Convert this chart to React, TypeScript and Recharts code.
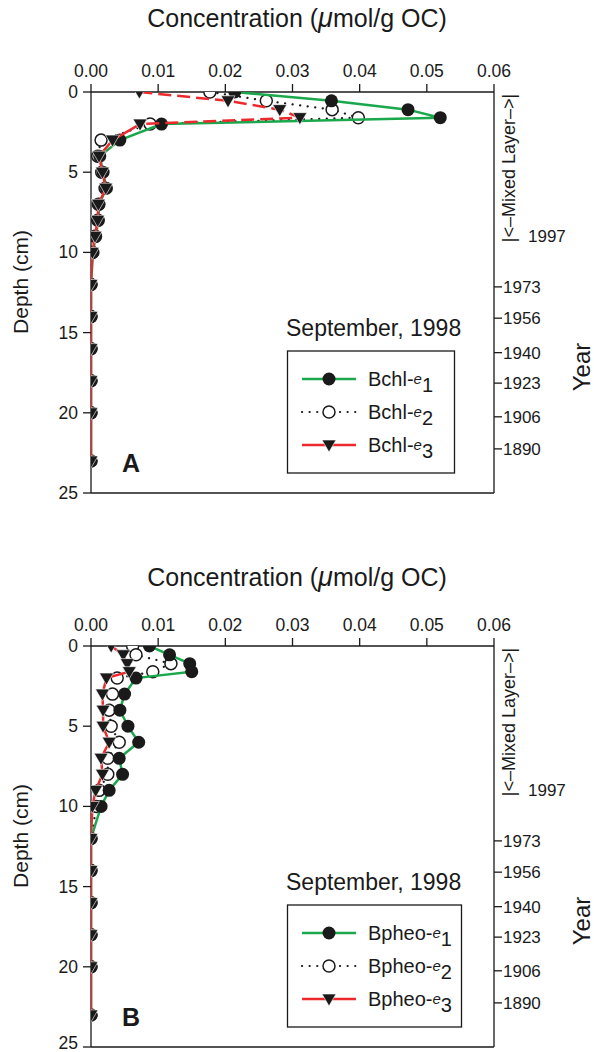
import React from 'react';
import { ScatterChart, Scatter, XAxis, YAxis, Legend } from 'recharts';

// depth of each slice (cm), shared by all series
const depths = [0, 0.55, 1.1, 1.6, 2, 3, 4, 5, 6, 7, 8, 9, 10, 12, 14, 16, 18, 20, 23];

// panel A - Bchl
const bchlE1 = [0.0214, 0.0358, 0.0472, 0.052, 0.0105, 0.0043, 0.0013, 0.0018, 0.0023, 0.0012, 0.0011, 0.0007, 0.0003, 0, 0, 0, 0, 0, 0];
const bchlE2 = [0.0177, 0.0261, 0.0359, 0.0398, 0.0088, 0.0015, 0.001, 0.0016, 0.0021, 0.0011, 0.001, 0.0006, 0.0002, 0, 0, 0, 0, 0, 0];
const bchlE3 = [0.0072, 0.0204, 0.0281, 0.0311, 0.0073, 0.0032, 0.0012, 0.0017, 0.0022, 0.0011, 0.001, 0.0006, 0.0002, 0, 0, 0, 0, 0, 0];

// panel B - Bpheo
const bpheoE1 = [0.0087, 0.0117, 0.0147, 0.015, 0.0067, 0.005, 0.0043, 0.0055, 0.0071, 0.0042, 0.0047, 0.0027, 0.0015, 0, 0, 0, 0, 0, 0];
const bpheoE2 = [0.0062, 0.0067, 0.0119, 0.0092, 0.0039, 0.0032, 0.0027, 0.003, 0.0042, 0.0025, 0.0025, 0.0012, 0.0008, 0, 0, 0, 0, 0, 0];
const bpheoE3 = [0.003, 0.0048, 0.0054, 0.0057, 0.0023, 0.0017, 0.0018, 0.0018, 0.0027, 0.0015, 0.0017, 0.0007, 0.0002, 0, 0, 0, 0, 0, 0];

const concTicks = [0, 0.01, 0.02, 0.03, 0.04, 0.05, 0.06];
const depthTicks = [0, 5, 10, 15, 20, 25];
const yearDepths = [9, 12.15, 14.1, 16.25, 18.15, 20.25, 22.25];
const yearLabels = ['1997', '1973', '1956', '1940', '1923', '1906', '1890'];

const GREEN = '#1ba84c';
const RED = '#ec2a2e';
const INK = '#1a1a1a';
const FONT = '"Liberation Sans", Arial, Helvetica, sans-serif';

const toPoints = (vals: number[]) => vals.map((v, i) => ({ conc: v, depth: depths[i] }));
// anchors for the year axis / box bottom so recharts lays them out
const yearPoints = yearDepths.map((d) => ({ conc: 0, depth: d }));

const FilledDot = (p: any) => <circle cx={p.cx} cy={p.cy} r={6.5} fill={INK} />;
const OpenDot = (p: any) => <circle cx={p.cx} cy={p.cy} r={6} fill="#fff" stroke={INK} strokeWidth={1.5} />;
const DownTri = (p: any) => (
  <path
    d={`M${p.cx - 7},${p.cy - 5} L${p.cx + 7},${p.cy - 5} L${p.cx},${p.cy + 7} Z`}
    fill={INK}
    stroke="#fff"
    strokeWidth={0.6}
  />
);
const NoMark = () => <g />;

const greenLine = { stroke: GREEN, strokeWidth: 2.5 };
const dotLine = { stroke: INK, strokeWidth: 2.2, strokeDasharray: '0.1 7.5', strokeLinecap: 'round' as const };
const redLine = { stroke: RED, strokeWidth: 2.5 };
const redDash = { stroke: RED, strokeWidth: 2.5, strokeDasharray: '13 6' };

interface PanelProps {
  prefix: string;
  e1: number[];
  e2: number[];
  e3: number[];
  letter: string;
  height: number;
  plotTop: number;
  titleBase: number;
  dashedTop: boolean;
  boxWidth: number;
}

const Panel: React.FC<PanelProps> = ({ prefix, e1, e2, e3, letter, height, plotTop, titleBase, dashedTop, boxWidth }) => {
  const plotH = 401;
  const e3Points = toPoints(e3);

  const legendRows = [
    { sub: '1', line: greenLine, mark: FilledDot },
    { sub: '2', line: dotLine, mark: OpenDot },
    { sub: '3', line: redLine, mark: DownTri },
  ];

  const renderLegend = () => (
    <svg width={200} height={180} style={{ overflow: 'visible' }}>
      <text x={6} y={26} fontSize={23} fill={INK} fontFamily={FONT}>September, 1998</text>
      <rect x={7.5} y={41} width={boxWidth} height={122} fill="#fff" stroke={INK} strokeWidth={1.3} />
      {legendRows.map((r, i) => {
        const cy = 69 + i * 33;
        const M = r.mark;
        return (
          <g key={r.sub}>
            <line x1={22} x2={76} y1={cy} y2={cy} {...r.line} />
            <M cx={49} cy={cy} />
            <text x={88} y={cy + 7} fontSize={20} fill={INK} fontFamily={FONT}>
              {prefix}
              <tspan fontStyle="italic" fontSize={15} dy={-2}>e</tspan>
              <tspan dy={8}>{r.sub}</tspan>
            </text>
          </g>
        );
      })}
    </svg>
  );

  return (
    <ScatterChart
      width={594}
      height={height}
      margin={{ top: plotTop - 30, left: 46, right: 20, bottom: height - plotTop - plotH - 1 }}
    >
      <XAxis
        xAxisId={0}
        type="number"
        dataKey="conc"
        orientation="top"
        domain={[0, 0.06]}
        ticks={concTicks}
        height={30}
        tickSize={8}
        allowDataOverflow
        axisLine={{ stroke: INK, strokeWidth: 1.3 }}
        tickLine={{ stroke: INK, strokeWidth: 1.3 }}
        tick={(p: any) => (
          <text x={p.x} y={plotTop - 15} textAnchor="middle" fontSize={17.5} fill={INK} fontFamily={FONT}>
            {Number(p.payload.value).toFixed(2)}
          </text>
        )}
      />
      <XAxis
        xAxisId="bottom"
        type="number"
        dataKey="conc"
        orientation="bottom"
        domain={[0, 0.06]}
        height={1}
        tick={false}
        tickLine={false}
        allowDataOverflow
        axisLine={{ stroke: INK, strokeWidth: 1.3 }}
      />
      <YAxis
        yAxisId={0}
        type="number"
        dataKey="depth"
        reversed
        domain={[0, 25]}
        ticks={depthTicks}
        width={45}
        tickSize={8}
        allowDataOverflow
        axisLine={{ stroke: INK, strokeWidth: 1.3 }}
        tickLine={{ stroke: INK, strokeWidth: 1.3 }}
        tick={(p: any) => (
          <text x={78} y={p.y + 6} textAnchor="end" fontSize={17.5} fill={INK} fontFamily={FONT}>
            {p.payload.value}
          </text>
        )}
      />
      <YAxis
        yAxisId="year"
        type="number"
        dataKey="depth"
        orientation="right"
        reversed
        domain={[0, 25]}
        ticks={yearDepths}
        width={80}
        tickLine={false}
        allowDataOverflow
        axisLine={{ stroke: INK, strokeWidth: 1.3 }}
        tick={(p: any) => {
          const idx = yearDepths.indexOf(p.payload.value);
          const first = idx === 0;
          return (
            <g>
              {!first && <line x1={494} x2={502} y1={p.y} y2={p.y} stroke={INK} strokeWidth={1.3} />}
              <text x={first ? 528 : 503} y={p.y + 6} fontSize={17} fill={INK} fontFamily={FONT}>
                {yearLabels[idx]}
              </text>
            </g>
          );
        }}
      />

      <Scatter
        data={yearPoints}
        xAxisId="bottom"
        yAxisId="year"
        shape={NoMark}
        legendType="none"
        isAnimationActive={false}
      />
      <Scatter data={toPoints(e2)} line={dotLine} shape={OpenDot} isAnimationActive={false} />
      <Scatter data={toPoints(e1)} line={greenLine} shape={FilledDot} isAnimationActive={false} />
      {dashedTop ? (
        <Scatter data={e3Points.slice(0, 5)} line={redDash} shape={DownTri} isAnimationActive={false} />
      ) : null}
      <Scatter
        data={dashedTop ? e3Points.slice(4) : e3Points}
        line={redLine}
        shape={DownTri}
        isAnimationActive={false}
      />

      <Legend
        layout="vertical"
        align="center"
        verticalAlign="middle"
        content={renderLegend}
        wrapperStyle={{ left: 280, top: plotTop + 218, width: 200, height: 180 }}
      />

      <text x={297} y={titleBase} textAnchor="middle" fontSize={25} fill={INK} fontFamily={FONT}>
        Concentration (<tspan fontStyle="italic" fontSize={27}>μ</tspan>mol/g OC)
      </text>
      <text
        transform={`translate(28, ${plotTop + 190}) rotate(-90)`}
        textAnchor="middle"
        fontSize={21}
        fill={INK}
        fontFamily={FONT}
      >
        Depth (cm)
      </text>
      <text
        transform={`translate(590, ${plotTop + 275}) rotate(-90)`}
        textAnchor="middle"
        fontSize={24}
        fill={INK}
        fontFamily={FONT}
      >
        Year
      </text>
      <text
        transform={`translate(515, ${plotTop + 76}) rotate(-90)`}
        textAnchor="middle"
        fontSize={18}
        fill={INK}
        fontFamily={FONT}
      >
        |&lt;–Mixed Layer–&gt;|
      </text>
      <text x={122} y={plotTop + 380} fontSize={25} fontWeight="bold" fill={INK} fontFamily={FONT}>
        {letter}
      </text>
    </ScatterChart>
  );
};

export default function App() {
  return (
    <div style={{ position: 'absolute', left: 0, top: 0, width: 594, height: 1052, background: '#fff' }}>
      <Panel
        prefix="Bchl-"
        e1={bchlE1}
        e2={bchlE2}
        e3={bchlE3}
        letter="A"
        height={556}
        plotTop={92}
        titleBase={27}
        dashedTop
        boxWidth={167}
      />
      <Panel
        prefix="Bpheo-"
        e1={bpheoE1}
        e2={bpheoE2}
        e3={bpheoE3}
        letter="B"
        height={496}
        plotTop={90}
        titleBase={30}
        dashedTop={false}
        boxWidth={174}
      />
    </div>
  );
}
